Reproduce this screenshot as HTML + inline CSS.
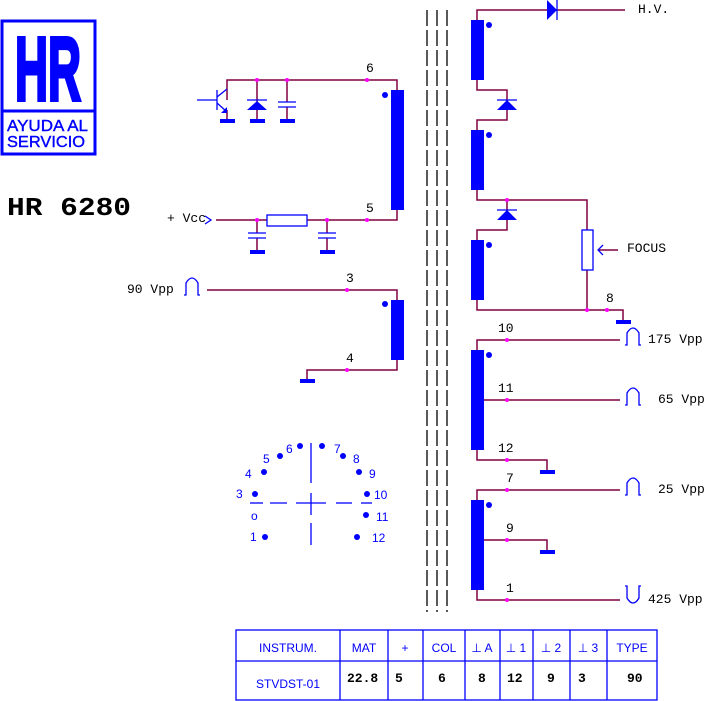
<!DOCTYPE html>
<html><head><style>body{margin:0;background:#fff}svg{display:block}</style></head><body>
<svg width="706" height="701" viewBox="0 0 706 701" xmlns="http://www.w3.org/2000/svg" font-family="Liberation Mono, monospace" font-size="13">
<rect x="0" y="0" width="706" height="701" fill="#fff"/>
<!-- logo -->
<rect x="2" y="21" width="93" height="133" fill="none" stroke="#00f" stroke-width="3"/>
<line x1="2" y1="111" x2="95" y2="111" stroke="#00f" stroke-width="3"/>
<text x="48" y="100" text-anchor="middle" font-family="Liberation Sans, sans-serif" font-weight="bold" font-size="90" fill="#00f" stroke="#00f" stroke-width="4" textLength="66" lengthAdjust="spacingAndGlyphs">HR</text>
<text x="7" y="131" font-family="Liberation Sans, sans-serif" font-size="16" fill="#00f" stroke="#00f" stroke-width="0.4" textLength="81" lengthAdjust="spacingAndGlyphs">AYUDA AL</text>
<text x="7" y="147" font-family="Liberation Sans, sans-serif" font-size="16" fill="#00f" stroke="#00f" stroke-width="0.4" textLength="78" lengthAdjust="spacingAndGlyphs">SERVICIO</text>
<text x="7" y="215" font-weight="bold" font-size="26" fill="#000" textLength="124" lengthAdjust="spacingAndGlyphs">HR 6280</text>

<g stroke="#800040" stroke-width="1.5" fill="none">
<polyline points="227,100 227,80 397,80 397,90"/>
<line x1="257" y1="80" x2="257" y2="121"/>
<line x1="287" y1="80" x2="287" y2="102"/>
<line x1="287" y1="107" x2="287" y2="121"/>
<polyline points="216,220 397,220 397,210"/>
<line x1="257" y1="220" x2="257" y2="233"/><line x1="257" y1="238" x2="257" y2="251"/>
<line x1="327" y1="220" x2="327" y2="233"/><line x1="327" y1="238" x2="327" y2="251"/>
<line x1="227" y1="110" x2="227" y2="121"/>
<polyline points="207,290 397,290 397,300"/>
<polyline points="307,380 307,370 397,370 397,360"/>
<polyline points="477,20 477,10 625,10"/>
<polyline points="477,80 477,90 507,90 507,120 477,120 477,130"/>
<polyline points="477,190 477,200 587,200 587,230"/>
<line x1="587" y1="270" x2="587" y2="310"/>
<polyline points="507,200 507,230 477,230 477,240"/>
<polyline points="477,300 477,310 623,310 623,320"/>
<line x1="598" y1="250" x2="618" y2="250"/>
<polyline points="477,350 477,340 620,340"/>
<line x1="477" y1="400" x2="620" y2="400"/>
<polyline points="477,450 477,460 547,460 547,470"/>
<polyline points="477,500 477,490 620,490"/>
<polyline points="477,540 547,540 547,550"/>
<polyline points="477,590 477,600 620,600"/>
</g>

<g stroke="#000" stroke-width="1.3" stroke-dasharray="16,4">
<line x1="427" y1="10" x2="427" y2="612"/>
<line x1="437" y1="10" x2="437" y2="612"/>
<line x1="447" y1="10" x2="447" y2="612"/>
</g>

<g fill="#00f">
<rect x="391" y="90" width="13" height="120"/>
<rect x="391" y="300" width="13" height="60"/>
<rect x="471" y="20" width="13" height="60"/>
<rect x="471" y="130" width="13" height="60"/>
<rect x="471" y="240" width="13" height="60"/>
<rect x="471" y="350" width="13" height="100"/>
<rect x="471" y="500" width="13" height="90"/>
<circle cx="385" cy="95" r="3"/><circle cx="385" cy="304" r="3"/>
<circle cx="489" cy="25" r="3"/><circle cx="489" cy="135" r="3"/><circle cx="489" cy="245" r="3"/>
<circle cx="489" cy="355" r="3"/><circle cx="489" cy="505" r="3"/>
<rect x="220" y="119" width="15" height="4"/><rect x="250" y="119" width="15" height="4"/><rect x="280" y="119" width="15" height="4"/>
<rect x="250" y="250" width="15" height="4"/><rect x="320" y="250" width="15" height="4"/>
<rect x="300" y="379" width="15" height="4"/>
<rect x="616" y="320" width="15" height="4"/>
<rect x="540" y="470" width="15" height="4"/>
<rect x="540" y="550" width="15" height="4"/>
<polygon points="247,110 267,110 257,101"/>
<polygon points="497,110 517,110 507,100"/>
<polygon points="497,220 517,220 507,210"/>
<polygon points="547,0 557,10 547,20"/>
<polygon points="221,113 227,107 227,113"/>
</g>
<g stroke="#00f" stroke-width="1.3" fill="none">
<line x1="247" y1="100" x2="267" y2="100"/>
<line x1="497" y1="100" x2="517" y2="100"/>
<line x1="497" y1="210" x2="517" y2="210"/>
<line x1="557" y1="0" x2="557" y2="20"/>
<line x1="197" y1="100" x2="217" y2="100"/>
<line x1="217" y1="90" x2="217" y2="110"/>
<line x1="217" y1="97" x2="227" y2="89"/>
<line x1="217" y1="103" x2="226" y2="111"/>
<line x1="278" y1="102" x2="296" y2="102"/><line x1="278" y1="107" x2="296" y2="107"/>
<line x1="248" y1="233" x2="266" y2="233"/><line x1="248" y1="238" x2="266" y2="238"/>
<line x1="318" y1="233" x2="336" y2="233"/><line x1="318" y1="238" x2="336" y2="238"/>
<rect x="267" y="215" width="40" height="11" fill="#fff"/>
<rect x="582" y="230" width="11" height="40" fill="#fff"/>
<polyline points="603,245 598,250 603,255"/>
<polyline points="205,216 211,220 205,224"/>
<path d="M184,295 L186,295 L186,283 Q192,273 198,283 L198,295 L200,295"/>
<path d="M625,345 L627,345 L627,333 Q633,323 639,333 L639,345 L641,345"/>
<path d="M625,405 L627,405 L627,393 Q633,383 639,393 L639,405 L641,405"/>
<path d="M625,495 L627,495 L627,483 Q633,473 639,483 L639,495 L641,495"/>
<path d="M625,586 L627,586 L627,598 Q633,608 639,598 L639,586 L641,586"/>
<line x1="311" y1="443" x2="311" y2="483"/><line x1="311" y1="493" x2="311" y2="515"/><line x1="311" y1="523" x2="311" y2="545"/>
<line x1="250" y1="503" x2="263" y2="503"/><line x1="270" y1="503" x2="287" y2="503"/><line x1="296" y1="503" x2="326" y2="503"/><line x1="336" y1="503" x2="352" y2="503"/><line x1="361" y1="503" x2="372" y2="503"/>
</g>
<g fill="#f0f">
<circle cx="257" cy="80" r="2"/><circle cx="287" cy="80" r="2"/><circle cx="367" cy="80" r="2"/>
<circle cx="257" cy="220" r="2"/><circle cx="327" cy="220" r="2"/><circle cx="367" cy="220" r="2"/>
<circle cx="347" cy="290" r="2"/><circle cx="347" cy="370" r="2"/>
<circle cx="507" cy="200" r="2"/><circle cx="587" cy="310" r="2"/><circle cx="607" cy="310" r="2"/>
<circle cx="507" cy="340" r="2"/><circle cx="507" cy="400" r="2"/><circle cx="507" cy="460" r="2"/>
<circle cx="507" cy="490" r="2"/><circle cx="507" cy="540" r="2"/><circle cx="507" cy="600" r="2"/>
</g>
<g fill="#000">
<text x="366" y="72">6</text><text x="366" y="212">5</text>
<text x="346" y="282">3</text><text x="346" y="362">4</text>
<text x="167" y="222">+ Vcc</text>
<text x="127" y="293">90 Vpp</text>
<text x="638" y="13">H.V.</text>
<text x="627" y="252">FOCUS</text>
<text x="606" y="302">8</text>
<text x="498" y="332">10</text><text x="498" y="392">11</text><text x="498" y="452">12</text>
<text x="506" y="482">7</text><text x="506" y="532">9</text><text x="506" y="592">1</text>
<text x="648" y="343">175 Vpp</text><text x="658" y="403">65 Vpp</text>
<text x="658" y="493">25 Vpp</text><text x="648" y="603">425 Vpp</text>
</g>
<g fill="#00f">
<circle cx="300" cy="446" r="3"/><circle cx="322" cy="446" r="3"/><circle cx="280" cy="456" r="3"/><circle cx="343" cy="456" r="3"/>
<circle cx="264" cy="472" r="3"/><circle cx="359" cy="472" r="3"/><circle cx="255" cy="494" r="3"/><circle cx="367" cy="494" r="3"/>
<circle cx="366" cy="515" r="3"/><circle cx="265" cy="537" r="3"/><circle cx="357" cy="537" r="3"/>
<g font-family="Liberation Sans, sans-serif" font-size="12">
<text x="286" y="453">6</text><text x="334" y="453">7</text><text x="263" y="463">5</text><text x="353" y="463">8</text>
<text x="245" y="478">4</text><text x="369" y="478">9</text><text x="236" y="498">3</text><text x="374" y="499">10</text>
<text x="251" y="520">o</text><text x="376" y="521">11</text><text x="250" y="541">1</text><text x="372" y="542">12</text>
</g>
</g>
<g stroke="#00f" stroke-width="1.3" fill="none">
<rect x="236" y="630" width="421" height="70"/>
<line x1="236" y1="661" x2="657" y2="661"/>
<line x1="340" y1="630" x2="340" y2="700"/><line x1="388" y1="630" x2="388" y2="700"/>
<line x1="423" y1="630" x2="423" y2="700"/><line x1="465" y1="630" x2="465" y2="700"/>
<line x1="500" y1="630" x2="500" y2="700"/><line x1="533" y1="630" x2="533" y2="700"/>
<line x1="570" y1="630" x2="570" y2="700"/><line x1="607" y1="630" x2="607" y2="700"/>
</g>
<g font-family="Liberation Sans, sans-serif" font-size="12" fill="#00f" text-anchor="middle">
<text x="288" y="652">INSTRUM.</text><text x="364" y="652">MAT</text><text x="405" y="652">+</text>
<text x="444" y="652">COL</text><text x="482" y="652">⊥ A</text><text x="516" y="652">⊥ 1</text>
<text x="551" y="652">⊥ 2</text><text x="588" y="652">⊥ 3</text><text x="632" y="652">TYPE</text>
<text x="288" y="688">STVDST-01</text>
</g>
<g font-weight="bold" font-size="13" fill="#000">
<text x="347" y="682">22.8</text><text x="395" y="682">5</text><text x="438" y="682">6</text>
<text x="478" y="682">8</text><text x="507" y="682">12</text><text x="547" y="682">9</text>
<text x="578" y="682">3</text><text x="627" y="682">90</text>
</g>
</svg>
</body></html>
